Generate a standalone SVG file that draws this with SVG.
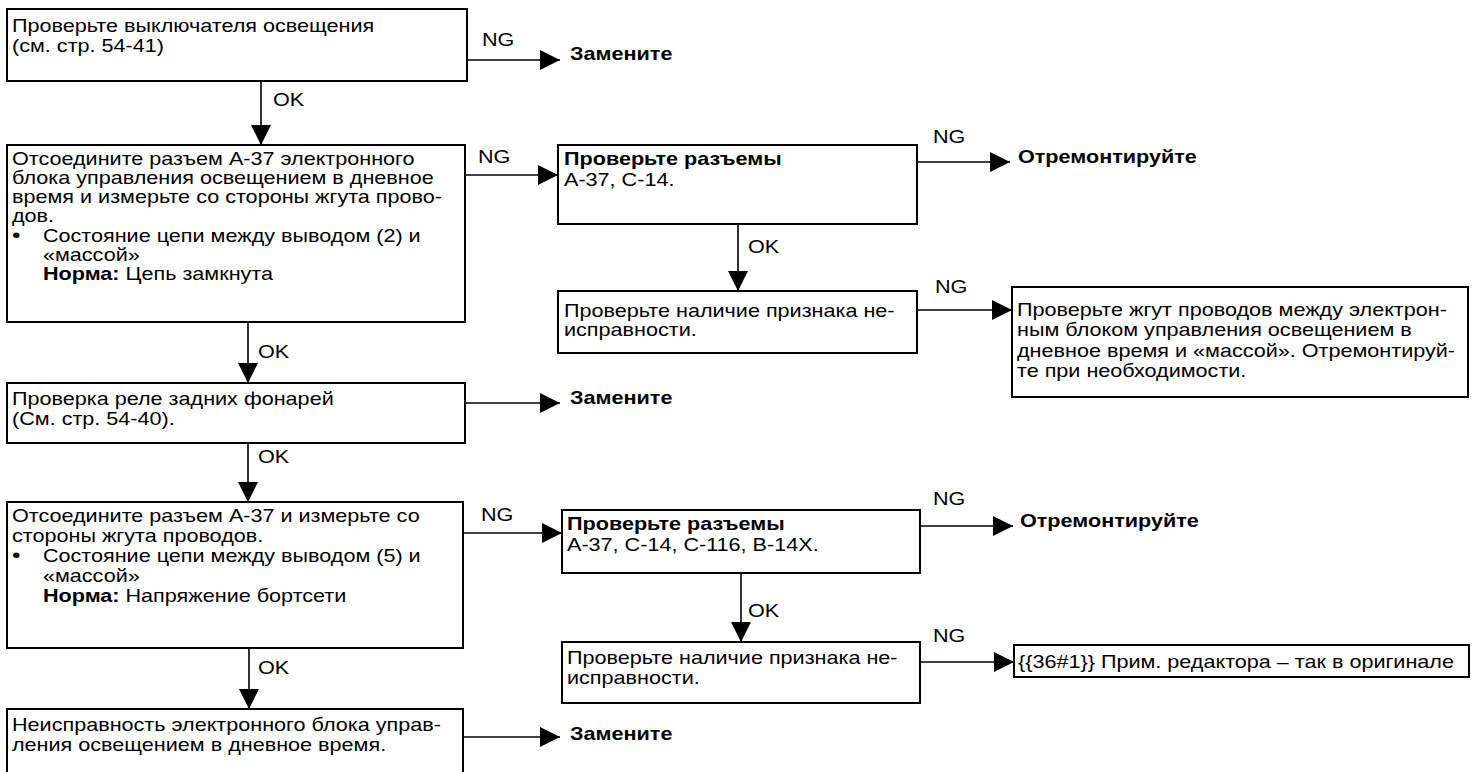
<svg xmlns="http://www.w3.org/2000/svg" width="1479" height="772" viewBox="0 0 1479 772">
<defs>
<style>
.box{fill:#fff;stroke:#000;stroke-width:2}
.ln{fill:none;stroke:#000;stroke-width:1.6}
.t{font-family:"Liberation Sans",Arial,sans-serif;font-size:18px;fill:#000}
.b{font-weight:bold}
.bul{font-size:20px}
</style>
<marker id="ah" markerUnits="userSpaceOnUse" markerWidth="20" markerHeight="20" refX="20" refY="10" orient="auto" viewBox="0 0 20 20">
<path d="M0,0 L20,10 L0,20 z" fill="#000"/>
</marker>
</defs>
<rect width="1479" height="772" fill="#fff"/>

<g id="connectors">
<line class="ln" x1="261" y1="81" x2="261" y2="145" marker-end="url(#ah)"/>
<line class="ln" x1="248" y1="322" x2="248" y2="383" marker-end="url(#ah)"/>
<line class="ln" x1="248" y1="443" x2="248" y2="502" marker-end="url(#ah)"/>
<line class="ln" x1="249" y1="648" x2="249" y2="709" marker-end="url(#ah)"/>
<line class="ln" x1="738" y1="224" x2="738" y2="291" marker-end="url(#ah)"/>
<line class="ln" x1="741" y1="573" x2="741" y2="642" marker-end="url(#ah)"/>
<line class="ln" x1="467" y1="60" x2="560" y2="60" marker-end="url(#ah)"/>
<line class="ln" x1="465" y1="175" x2="558" y2="175" marker-end="url(#ah)"/>
<line class="ln" x1="465" y1="403" x2="560" y2="403" marker-end="url(#ah)"/>
<line class="ln" x1="463" y1="533" x2="562" y2="533" marker-end="url(#ah)"/>
<line class="ln" x1="463" y1="737" x2="560" y2="737" marker-end="url(#ah)"/>
<line class="ln" x1="917" y1="162" x2="1010" y2="162" marker-end="url(#ah)"/>
<line class="ln" x1="917" y1="310" x2="1012" y2="310" marker-end="url(#ah)"/>
<line class="ln" x1="920" y1="526" x2="1013" y2="526" marker-end="url(#ah)"/>
<line class="ln" x1="920" y1="662" x2="1014" y2="662" marker-end="url(#ah)"/>
<g class="t">
<text transform="translate(273 106) scale(1.2 1)">OK</text>
<text transform="translate(258 358) scale(1.2 1)">OK</text>
<text transform="translate(258 463) scale(1.2 1)">OK</text>
<text transform="translate(258 674) scale(1.2 1)">OK</text>
<text transform="translate(748 253) scale(1.2 1)">OK</text>
<text transform="translate(748 617) scale(1.2 1)">OK</text>
<text transform="translate(482 46) scale(1.2 1)">NG</text>
<text transform="translate(478 163) scale(1.2 1)">NG</text>
<text transform="translate(481 521) scale(1.2 1)">NG</text>
<text transform="translate(933 143) scale(1.2 1)">NG</text>
<text transform="translate(935 293) scale(1.2 1)">NG</text>
<text transform="translate(933 505) scale(1.2 1)">NG</text>
<text transform="translate(933 642) scale(1.2 1)">NG</text>
</g>
</g>

<g id="n1">
<rect class="box" x="7" y="9" width="460" height="72"/>
<text class="t" transform="translate(12 32) scale(1.2 1)"><tspan x="0" y="0">Проверьте выключателя освещения</tspan><tspan x="0" y="20">(см. стр. 54-41)</tspan></text>
</g>
<g id="r-zamenite1"><text class="t b" transform="translate(570 60) scale(1.2 1)">Замените</text></g>

<g id="n2">
<rect class="box" x="7" y="145" width="458" height="177"/>
<text class="t" transform="translate(12 164.5) scale(1.2 1)"><tspan x="0" y="0">Отсоедините разъем А-37 электронного</tspan><tspan x="0" y="19.3">блока управления освещением в дневное</tspan><tspan x="0" y="38.6">время и измерьте со стороны жгута прово-</tspan><tspan x="0" y="58">дов.</tspan><tspan x="0" y="77.3" class="bul">•</tspan><tspan x="25.8" y="77.3">Состояние цепи между выводом (2) и</tspan><tspan x="25.8" y="96.6">«массой»</tspan><tspan x="25.8" y="116" class="b">Норма:</tspan><tspan> Цепь замкнута</tspan></text>
</g>

<g id="r1">
<rect class="box" x="558" y="145" width="359" height="79"/>
<text class="t" transform="translate(564 165) scale(1.2 1)"><tspan x="0" y="0" class="b">Проверьте разъемы</tspan><tspan x="0" y="21">А-37, С-14.</tspan></text>
</g>
<g id="r-otrem1"><text class="t b" transform="translate(1018 163) scale(1.2 1)">Отремонтируйте</text></g>

<g id="r2">
<rect class="box" x="558" y="291" width="359" height="62"/>
<text class="t" transform="translate(564 317) scale(1.2 1)"><tspan x="0" y="0">Проверьте наличие признака не-</tspan><tspan x="0" y="19.5">исправности.</tspan></text>
</g>

<g id="r3">
<rect class="box" x="1012" y="287" width="456" height="110"/>
<text class="t" transform="translate(1017 316) scale(1.2 1)"><tspan x="0" y="0">Проверьте жгут проводов между электрон-</tspan><tspan x="0" y="20.5">ным блоком управления освещением в</tspan><tspan x="0" y="41">дневное время и «массой». Отремонтируй-</tspan><tspan x="0" y="61.5">те при необходимости.</tspan></text>
</g>

<g id="n3">
<rect class="box" x="7" y="383" width="458" height="60"/>
<text class="t" transform="translate(12 405) scale(1.2 1)"><tspan x="0" y="0">Проверка реле задних фонарей</tspan><tspan x="0" y="20">(См. стр. 54-40).</tspan></text>
</g>
<g id="r-zamenite2"><text class="t b" transform="translate(570 404) scale(1.2 1)">Замените</text></g>

<g id="n4">
<rect class="box" x="7" y="502" width="456" height="146"/>
<text class="t" transform="translate(12 522) scale(1.2 1)"><tspan x="0" y="0">Отсоедините разъем А-37 и измерьте со</tspan><tspan x="0" y="20">стороны жгута проводов.</tspan><tspan x="0" y="40" class="bul">•</tspan><tspan x="25.8" y="40">Состояние цепи между выводом (5) и</tspan><tspan x="25.8" y="60">«массой»</tspan><tspan x="25.8" y="80" class="b">Норма:</tspan><tspan> Напряжение бортсети</tspan></text>
</g>

<g id="r4">
<rect class="box" x="562" y="510" width="358" height="63"/>
<text class="t" transform="translate(567 530) scale(1.2 1)"><tspan x="0" y="0" class="b">Проверьте разъемы</tspan><tspan x="0" y="21">А-37, С-14, С-116, В-14X.</tspan></text>
</g>
<g id="r-otrem2"><text class="t b" transform="translate(1020 527) scale(1.2 1)">Отремонтируйте</text></g>

<g id="r5">
<rect class="box" x="562" y="642" width="358" height="61"/>
<text class="t" transform="translate(567 664) scale(1.2 1)"><tspan x="0" y="0">Проверьте наличие признака не-</tspan><tspan x="0" y="20">исправности.</tspan></text>
</g>

<g id="r6">
<rect class="box" x="1014" y="645" width="455" height="32"/>
<text class="t" transform="translate(1018 668) scale(1.2 1)">{{36#1}} Прим. редактора – так в оригинале</text>
</g>

<g id="n5">
<rect class="box" x="7" y="709" width="456" height="80"/>
<text class="t" transform="translate(12 731) scale(1.2 1)"><tspan x="0" y="0">Неисправность электронного блока управ-</tspan><tspan x="0" y="20">ления освещением в дневное время.</tspan></text>
</g>
<g id="r-zamenite3"><text class="t b" transform="translate(570 740) scale(1.2 1)">Замените</text></g>
</svg>
